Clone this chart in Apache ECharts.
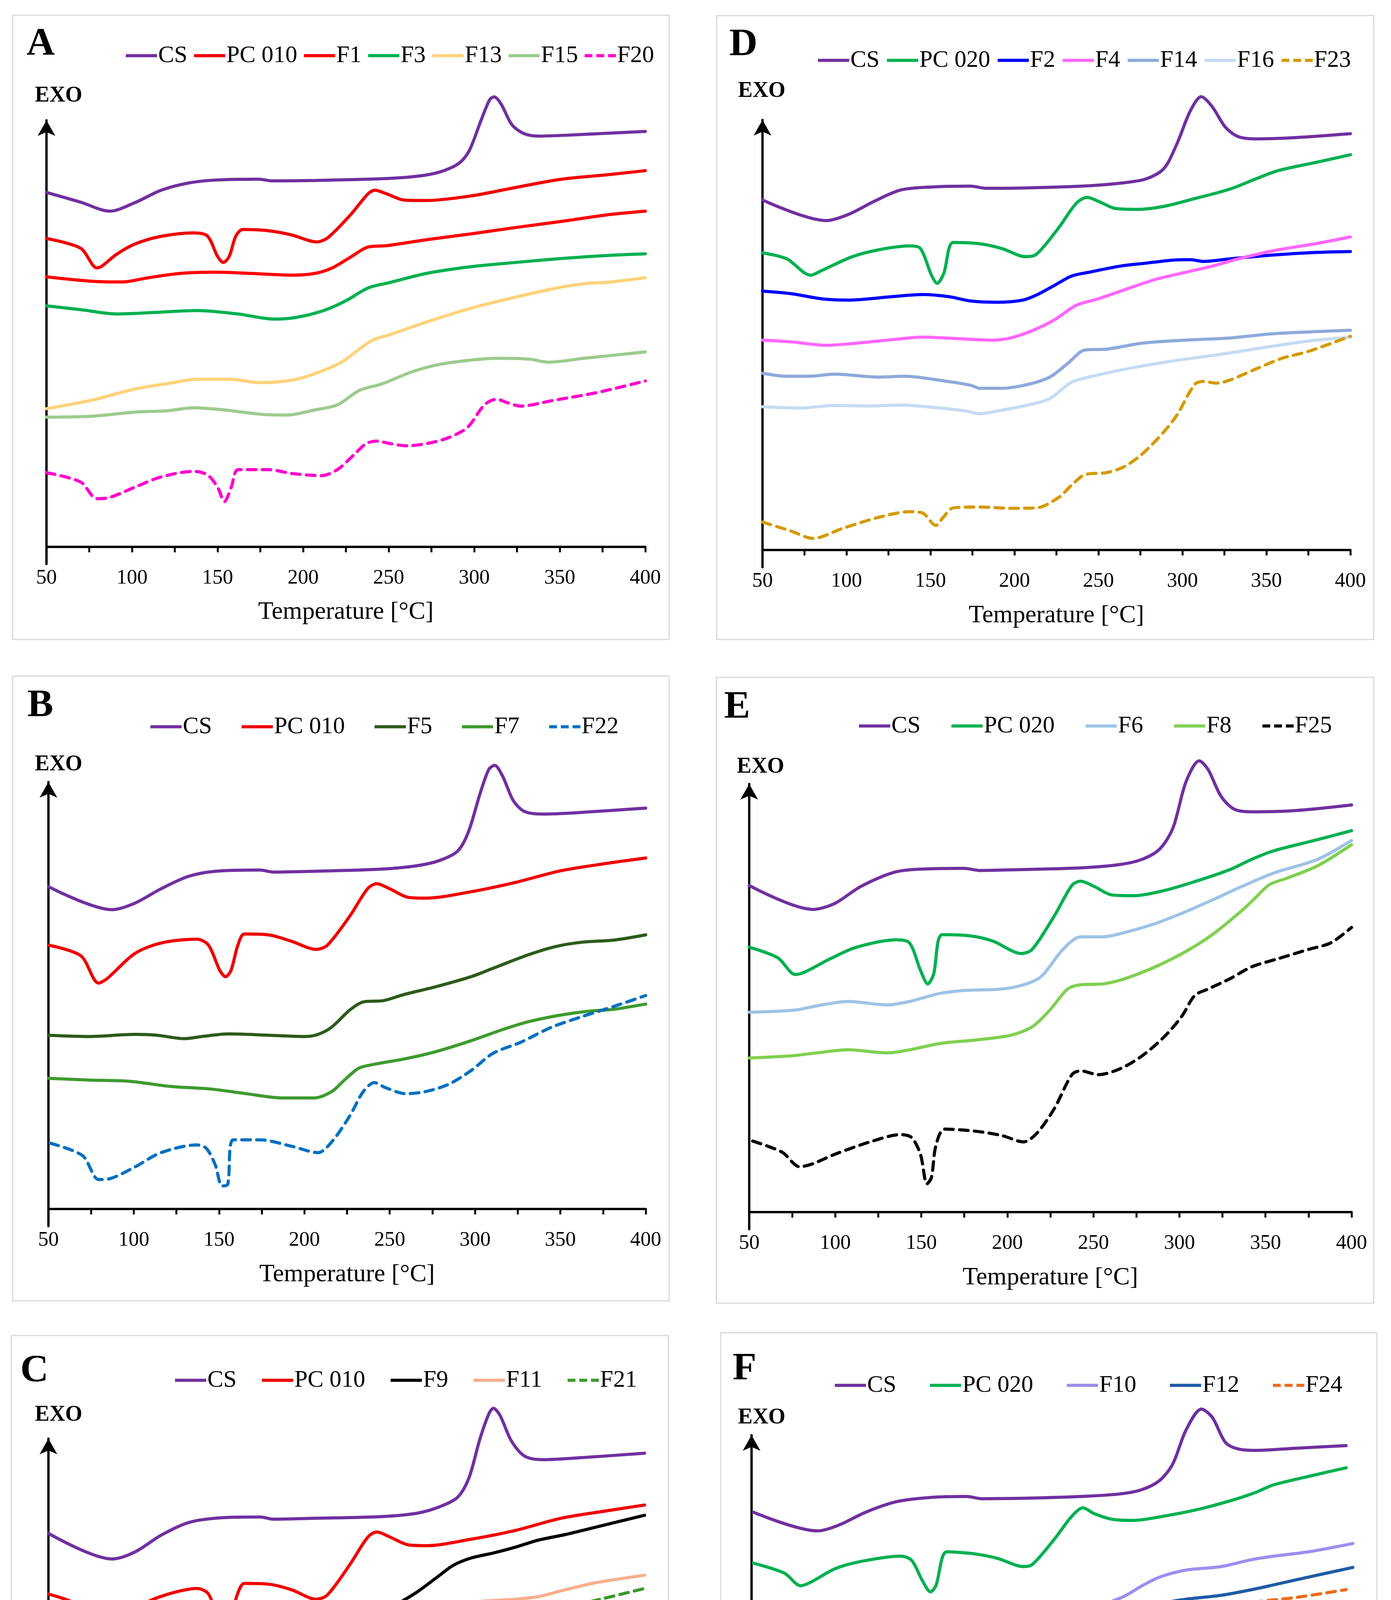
<!DOCTYPE html>
<html><head><meta charset="utf-8">
<script src="https://cdn.jsdelivr.net/npm/echarts@6.0.0/dist/echarts.min.js"></script>
<style>html,body{margin:0;padding:0;background:#fff}#c{width:3561px;height:5046px}</style>
</head><body><div id="c"></div>
<script>
// ---- Data: [temperature °C, relative heat-flow signal (0 = x axis, 100 = arrow tip)] ----
// Panel A
const csA = [[50,83.1],[70,80.8],[87,78.7],[101.7,80.7],[117,83.6],[133,85.3],[149,86.0],[174,86.2],[182,85.8],[207,85.9],[246,86.3],[267,86.9],[280,87.9],[291,89.9],[297,92.8],[304,100],[309,104.8],[311.6,105.5],[315.6,103.9],[322,99],[329,96.9],[338,96.3],[364,96.7],[400,97.4]];
const pc010A = [[50,72.3],[70,70.0],[79.4,65.4],[82,65.7],[91,68.6],[101.7,71.0],[117,72.8],[136,73.6],[144,72.9],[150,68.1],[153.4,66.7],[156.8,68.1],[160.7,72.9],[164.7,74.4],[180,74.1],[193.5,73.1],[208,71.5],[214.5,72.5],[227.6,77.8],[238,82.8],[242,83.6],[248.6,82.8],[259,81.3],[272,81.2],[298.5,82.3],[324.7,84.3],[351,86.2],[377,87.2],[400,88.2]];
const f1 = [[50,63.3],[75.5,62.3],[94,62.1],[109.6,63.1],[128,64.1],[149,64.4],[170,64.1],[193.5,63.7],[206.7,64.1],[217,65.4],[227.6,67.9],[238,70.3],[248.6,70.6],[272,72.0],[298.5,73.4],[324.7,74.9],[351,76.3],[377,77.8],[400,78.7]];
const f3 = [[50,56.5],[70,55.6],[91,54.6],[115,55.0],[138,55.4],[162,54.6],[183,53.4],[196,53.8],[212,55.4],[225,57.7],[238,60.7],[251,62.0],[272,64.1],[298.5,65.7],[324.7,66.7],[351,67.6],[377,68.3],[400,68.7]];
const f13 = [[50,32.4],[75.5,34.3],[101.7,37.0],[122.7,38.4],[138,39.3],[157,39.3],[175,38.5],[193.5,39.1],[206.7,40.6],[222,43.2],[233,46.4],[240.8,48.5],[251,49.8],[272,52.7],[298.5,56.0],[324.7,58.6],[351,60.9],[366.7,61.8],[377,62.0],[400,63.1]];
const f15 = [[50,30.4],[75.5,30.6],[101.7,31.6],[120,31.9],[136,32.6],[154,32.1],[175,31.1],[191,30.9],[206.7,32.1],[220,33.3],[233,36.7],[246,38.2],[264,41.1],[280,42.8],[298.5,43.8],[314,44.2],[332.5,44.0],[343,43.3],[364,44.2],[400,45.7]];
const f20 = [[50,17.4],[70,15.2],[79.4,11.3],[87,11.6],[101.7,14.0],[117,16.4],[136,17.7],[144,16.9],[150,14.0],[154,10.6],[158,14.0],[162,18.1],[180,18.1],[193.5,17.2],[210.6,16.7],[220,18.1],[230,21.7],[236.8,24.2],[243,24.8],[251,24.2],[260.4,23.7],[272,24.2],[285,25.6],[296,28.0],[306,33.3],[313,34.6],[319.5,33.8],[327,33.0],[345.7,34.3],[372,36.2],[400,38.9]];
// Panel B
const csB = [[50,75.5],[87.3,70.1],[100.5,71.6],[116,75.0],[132,77.9],[147.8,79.1],[174,79.4],[182,78.9],[205.6,79.1],[245,79.6],[266,80.4],[279,81.6],[289.7,83.8],[296,88.2],[302.8,97.1],[308,102.9],[311.5,103.9],[316,101.5],[322.5,95.6],[329,93.1],[339.6,92.5],[363,92.9],[400,93.9]];
const pc010B = [[50,61.8],[69,59.3],[79.4,52.9],[84.5,54.0],[100.5,59.8],[116,62.3],[137,63.2],[143.8,61.8],[150.4,55.9],[153.8,54.4],[157,55.9],[161,61.8],[164.8,64.4],[179,64.2],[192.4,62.7],[207,60.8],[213.5,61.8],[226.6,68.6],[237,75.0],[242.4,76.2],[250,75.0],[260.8,73.0],[271,72.8],[297.6,74.3],[323.8,76.5],[350,79.2],[376.4,80.9],[400,82.2]];
const f5 = [[50,40.7],[74,40.4],[100.5,40.9],[113.6,40.7],[129.4,39.9],[140,40.4],[155.6,41.0],[179,40.7],[200.3,40.4],[208,40.9],[216,42.6],[226.6,46.6],[234.5,48.5],[246.3,48.8],[258,50.2],[276.5,52.0],[297.6,54.4],[310.7,56.4],[331.7,59.6],[347.5,61.5],[363,62.5],[381.7,63.0],[400,64.2]];
const f7 = [[50,30.6],[74,30.2],[97.8,29.9],[121.5,28.7],[145,28.1],[166,27.0],[187,26.0],[205.6,26.0],[216,27.5],[224,30.4],[232,33.0],[242.4,34.0],[258,35.1],[276.5,36.8],[297.6,39.4],[316,42.0],[331.7,43.9],[350,45.4],[366,46.3],[381.7,46.8],[400,48.0]];
const f22 = [[51,15.4],[70,12.5],[79.4,6.9],[86,7.1],[100.5,9.8],[116,13.2],[137,15.0],[142.5,14.2],[147.8,10.3],[151.7,5.4],[155,5.7],[158.3,16.2],[174,16.2],[192.4,14.7],[208,13.2],[216,15.7],[226.6,21.8],[234.5,27.5],[241,29.6],[247.6,28.4],[259.5,27.0],[271,27.5],[284.5,29.2],[297.6,32.4],[310.7,36.5],[326.5,39.0],[345,42.6],[363,45.1],[381.7,47.5],[400,50.0]];
// Panel C
const csC = [[50,77.9],[87.4,71.9],[100.6,73.5],[116.4,77.5],[132.2,80.4],[150.6,81.5],[174.3,81.7],[182.2,81.2],[206,81.4],[245.4,81.8],[266.5,82.6],[279.7,84.1],[290.2,86.3],[296.8,90.7],[303.4,100],[308.7,105.9],[311.3,107.1],[315.2,105.4],[321.8,99.5],[329.7,95.9],[340.3,95.1],[364,95.6],[400,96.6]];
const pc010C = [[50,63.7],[69,60.8],[80,54.4],[84.7,55.4],[100.6,60.3],[116.4,63.2],[137.4,65.0],[144,63.7],[150,57.4],[153.2,56.1],[156.4,57.4],[161,63.7],[165,66.2],[179.6,66.0],[192.8,64.7],[207.2,62.5],[213.8,63.5],[227,70.6],[237.5,77.0],[242.8,78.2],[250.7,77.0],[261.2,75.2],[271.8,75.0],[298,76.5],[324.5,78.6],[350.8,81.4],[377,83.1],[400,84.5]];
const f9 = [[50,51.3],[71.6,50.8],[92.7,51.0],[111,52.2],[132.2,52.5],[150.6,51.8],[169,50.2],[182.2,49.5],[200.7,50.5],[216.5,52.2],[227,53.7],[240.2,57.8],[253.3,61.0],[266.5,64.2],[279.7,68.1],[287.6,70.4],[298,72.1],[311.3,73.3],[324.5,74.7],[337.6,76.3],[353.4,77.6],[372,79.4],[400,82.1]];
const f11 = [[50,45.3],[69,44.8],[84.8,44.6],[98,45.3],[116.4,46.8],[134.8,46.8],[153.2,45.9],[171.7,44.1],[190,42.6],[206,43.1],[219,44.3],[229.6,47.5],[240.2,51.5],[250.7,53.4],[263.9,55.7],[274.4,58.3],[285,60.5],[298,61.8],[311.3,62.2],[324.5,62.5],[337.6,63.1],[353.4,64.7],[372,66.4],[400,68.1]];
const f21 = [[50,10.3],[69,7.8],[84.8,5.1],[92.7,5.7],[105.8,8.0],[121.6,11.3],[134.8,13.2],[145.3,13.9],[153.2,13.5],[155.8,13.1],[163.8,14.2],[179.6,14.7],[206,15.2],[224.4,16.2],[240.2,18.6],[253.3,22.1],[263.9,27.5],[274.4,35.3],[285,42.6],[295.5,51.0],[303.4,58.3],[308.7,60.8],[311.3,61.3],[315.2,60.3],[321.8,58.1],[327,57.8],[337.6,58.8],[353.4,60.6],[372,62.3],[400,65.0]];
// Panel D
const csD = [[50,81.4],[87.9,76.6],[101,78.0],[116.6,81.1],[132.3,83.7],[150.6,84.4],[174,84.6],[183.2,84.1],[208,84.2],[244.6,84.7],[265.5,85.4],[278.5,86.3],[289,88.7],[296.8,94.5],[304.7,102.1],[311.2,105.4],[317.7,103.1],[325.6,98.3],[333.4,96.1],[343.8,95.6],[367.4,95.9],[400,96.8]];
const pc020D = [[50,69.1],[64.4,67.7],[78.7,63.9],[85.3,65.0],[103.5,68.2],[119.2,69.8],[137.5,70.7],[144,70.1],[150.6,63.9],[154,62.0],[157.9,64.3],[163.6,71.5],[179.3,71.2],[192.4,70.1],[206.7,68.2],[213.2,68.8],[226.3,74.9],[236.8,80.6],[243.3,82.0],[249.8,81.1],[260.3,79.4],[273.3,79.2],[289,79.9],[307.3,81.7],[328.2,83.9],[343.8,86.3],[356.9,88.2],[380.4,90.2],[400,91.9]];
const f2 = [[50,60.2],[67,59.6],[85.3,58.4],[101,58.1],[127,58.9],[145.3,59.4],[161,58.9],[174,57.9],[189.7,57.6],[204.8,58.1],[213.2,59.3],[223.7,61.5],[234,63.7],[244.6,64.6],[262.9,66.0],[278.5,66.7],[294.2,67.4],[304.7,67.5],[312.5,67.1],[328.2,67.7],[354.3,68.6],[380.4,69.2],[400,69.4]];
const f4 = [[50,48.8],[67,48.4],[87.9,47.6],[106.2,48.1],[127,48.9],[145.3,49.5],[163.6,49.2],[187.1,48.8],[197.6,49.3],[210.6,51.0],[223.7,53.5],[236.8,56.9],[249.8,58.4],[265.5,60.5],[283.8,62.9],[302.1,64.6],[317.7,66.0],[333.4,67.7],[354.3,69.6],[380.4,71.3],[400,72.8]];
const f14 = [[50,41.1],[64.4,40.4],[77.4,40.4],[93,40.9],[119.2,40.2],[134.9,40.4],[158.4,39.3],[174,38.3],[179.3,37.6],[192.4,37.6],[208,38.5],[221,40.2],[231.5,43.3],[242,46.5],[255,46.7],[276,48.1],[302,48.8],[328.2,49.3],[354.3,50.3],[400,51.1]];
const f16 = [[50,33.3],[72.2,33.0],[93,33.6],[114,33.5],[132.3,33.7],[153.2,33.1],[171.5,32.3],[179.3,31.7],[192.4,32.5],[208,33.7],[221,35.2],[234,39.0],[249.8,40.7],[270.7,42.4],[296.8,44.1],[322.9,45.5],[349,47.1],[375.2,48.6],[400,49.5]];
const f23 = [[50,6.5],[67,4.4],[80,2.7],[98.3,5.1],[119.2,7.6],[137.5,8.9],[145.3,8.6],[153.2,5.7],[157,7.3],[163.6,9.8],[179.3,10.0],[197.6,9.7],[213.2,9.8],[226.3,12.2],[234.1,15.1],[241.9,17.5],[255,18.0],[265.5,19.4],[276,22.3],[289,27.5],[296.8,31.4],[307.3,38.5],[312.5,39.2],[320.3,38.8],[328.2,39.5],[343.8,42.1],[359.5,44.6],[375.2,46.2],[400,49.7]];
// Panel E
const csE = [[50,76.3],[87,70.7],[99.7,72.1],[115,76.1],[135.5,79.5],[155.9,80.2],[175,80.3],[184,79.8],[206.9,80.0],[242.6,80.4],[265.6,81.2],[278.3,82.4],[288.5,84.8],[296.2,89.7],[303.8,100.5],[311.5,105.4],[316.6,103.4],[324.2,97.1],[331.9,94.1],[342,93.5],[367.6,93.8],[400,95.1]];
const pc020E = [[50,61.9],[66.6,59.4],[76.8,55.5],[81.9,56.0],[97.2,59.2],[112.5,61.9],[135.5,63.6],[143.1,62.9],[149.5,56.5],[153.8,53.3],[157.1,55.5],[162.2,64.8],[178.8,64.5],[191.6,63.3],[208.2,60.4],[214.5,61.4],[227.3,69.2],[237.5,76.3],[242.6,77.3],[250.3,76.1],[260.5,74.1],[273.2,73.9],[291,75.1],[308.9,77.2],[329.3,80.0],[342,82.4],[354.8,84.4],[380.3,87.0],[400,89.1]];
const f6 = [[50,46.7],[76.8,47.2],[89.5,48.2],[107.4,49.2],[130.4,48.4],[143.1,49.2],[161,51.1],[176.3,51.8],[196.7,52.1],[209.4,53.1],[219.6,55.0],[232.4,61.4],[242.6,64.3],[255.4,64.3],[268.1,65.3],[286,67.4],[303.8,70.2],[319.1,72.9],[337,76.2],[354.8,79.2],[380.3,82.4],[400,86.8]];
const f8 = [[50,36.0],[74.2,36.5],[89.5,37.2],[107.4,37.9],[130.4,37.2],[143.1,37.9],[161,39.4],[181.4,40.2],[201.8,41.3],[214.5,43.3],[224.7,47.2],[235,52.1],[242.6,53.1],[255.4,53.3],[268.1,54.5],[286,57.3],[303.8,60.9],[319.1,64.8],[337,70.7],[344.6,73.6],[352.3,76.5],[362.5,78.0],[380.3,80.9],[400,85.8]];
const f25 = [[52,16.6],[69.1,14.0],[79.3,10.6],[87,11.3],[99.7,13.5],[120.2,16.4],[138,18.1],[144.4,17.4],[149.5,13.5],[153.3,6.6],[155.9,8.1],[158.4,15.4],[163.5,19.4],[181.4,18.9],[196.7,17.9],[209.4,16.4],[217.1,18.4],[227.3,24.2],[237.5,32.1],[242.6,33.0],[252.8,32.1],[265.6,33.5],[278.3,36.5],[291,40.9],[301.3,45.7],[308.9,50.6],[316.6,52.1],[329.3,54.5],[342,57.3],[357.4,59.2],[375.3,61.4],[388,62.9],[400,66.5]];
// Panel F
const csF = [[51,82.3],[88.2,78.0],[101,79.4],[116.2,82.3],[134,84.7],[154.3,85.7],[174.7,85.9],[183.6,85.4],[207.8,85.5],[240.9,85.9],[263.8,86.5],[276.5,87.5],[286.7,89.6],[294.3,93.4],[302,101.2],[310.9,106.0],[317.2,104.1],[324.9,98.3],[332.5,96.8],[342.7,96.5],[365.6,97.0],[394.8,97.6]];
const pc020F = [[51,70.6],[69,68.3],[78.5,65.4],[84.3,66.2],[98.4,69.3],[113.6,71.0],[136.5,72.2],[142.9,71.2],[149.3,66.4],[153.8,64.0],[156.9,65.4],[163.3,73.2],[179.8,72.7],[192.5,71.7],[207.8,69.8],[212.9,70.3],[225.6,76.1],[235.8,81.4],[242.2,83.3],[248.5,82.0],[258.7,80.7],[271.4,80.4],[289.2,81.4],[309.6,83.0],[330,85.2],[342.7,86.9],[352.9,88.6],[378.3,91.0],[394.8,92.5]];
const f10 = [[51,53.7],[72.9,53.2],[90.7,53.1],[108.5,53.7],[128.9,54.2],[144.2,53.9],[162,52.6],[177.3,51.3],[195.1,50.8],[207.8,51.9],[223.1,54.1],[238.3,58.4],[251,60.6],[266.3,63.0],[276.5,65.4],[286.7,67.4],[302,69.0],[322.3,69.8],[340.1,71.4],[352.9,72.2],[373.2,73.2],[398.7,75.1]];
const f12 = [[51,44.5],[78,44.7],[98.4,46.1],[116.2,47.3],[136.5,47.6],[154.3,47.1],[169.6,46.1],[184.9,45.6],[200.2,45.9],[215.4,47.3],[225.6,48.6],[235.8,51.0],[248.5,54.3],[263.8,56.9],[276.5,59.2],[289.2,61.4],[302,62.3],[322.3,63.2],[340.1,64.5],[352.9,65.6],[373.2,67.4],[398.7,69.6]];
const f24 = [[51,5.4],[67.8,3.7],[83.1,2.5],[95.8,3.7],[111.1,6.4],[128.9,8.5],[144.2,9.3],[154.3,9.5],[169.6,10.4],[187.4,11.1],[207.8,11.9],[223.1,13.0],[235.8,15.3],[246,18.6],[256.1,23.5],[266.3,30.7],[276.5,38.4],[286.7,45.2],[294.3,51.0],[302,57.7],[308.3,61.1],[312.1,61.6],[317.2,60.9],[323.6,60.6],[340.1,61.6],[365.6,62.7],[394.8,64.5]];

const xTickLabels = [50, 100, 150, 200, 250, 300, 350, 400];
const panelLetters = ['A', 'B', 'C', 'D', 'E', 'F'];

// ---- Layout / style ----
const FONT = '"Liberation Serif", "DejaVu Serif", serif';
const C = {CS:'#7030A0', PC010:'#F00000', PC020:'#00B050'};
const ICON_SOLID = 'path://M0 0H20V2H0Z';
const ICON_DASH = 'path://M0 0H5V2H0Z M7.5 0H12.5V2H7.5Z M15 0H20V2H15Z';
const panels = [
  {letter:'A', plot:{left:119, right:1652, top:308, axisY:1400}, box:[32,39,1713,1637], lpos:[104,114], exo:[150,246], legend:{left:322, cy:144, gap:17},
   series:[['CS',csA,C.CS,0],['PC 010',pc010A,C.PC010,0],['F1',f1,'#FF0000',0],['F3',f3,'#00B050',0],['F13',f13,'#FFD27A',0],['F15',f15,'#9CCB8E',0],['F20',f20,'#FF00CC',1]]},
  {letter:'B', plot:{left:124, right:1653, top:2002, axisY:3095}, box:[32,1731,1713,3330], lpos:[103,1807], exo:[150,1958], legend:{left:385, cy:1862, gap:76},
   series:[['CS',csB,C.CS,0],['PC 010',pc010B,C.PC010,0],['F5',f5,'#2D5A1B',0],['F7',f7,'#3F9A2F',0],['F22',f22,'#0070C0',1]]},
  {letter:'C', plot:{left:124, right:1650, top:3683, axisY:4779}, box:[29,3419,1711,5016], lpos:[88,3510], exo:[150,3623], legend:{left:448, cy:3535, gap:65},
   series:[['CS',csC,C.CS,0],['PC 010',pc010C,C.PC010,0],['F9',f9,'#000000',0],['F11',f11,'#F7AE8C',0],['F21',f21,'#3A9A2A',1]]},
  {letter:'D', plot:{left:1952, right:3457, top:307, axisY:1408}, box:[1835,40,3517,1637], lpos:[1903,115], exo:[1950,234], legend:{left:2094, cy:156, gap:19},
   series:[['CS',csD,C.CS,0],['PC 020',pc020D,C.PC020,0],['F2',f2,'#0000FF',0],['F4',f4,'#FF66FF',0],['F14',f14,'#8EA9DB',0],['F16',f16,'#C5DCF2',0],['F23',f23,'#D49A00',1]]},
  {letter:'E', plot:{left:1918, right:3460, top:2007, axisY:3103}, box:[1834,1734,3517,3336], lpos:[1887,1811], exo:[1947,1964], legend:{left:2199, cy:1860, gap:79},
   series:[['CS',csE,C.CS,0],['PC 020',pc020E,C.PC020,0],['F6',f6,'#9DC3E6',0],['F8',f8,'#80D050',0],['F25',f25,'#000000',1]]},
  {letter:'F', plot:{left:1924, right:3469, top:3674, axisY:4788}, box:[1845,3412,3525,5011], lpos:[1906,3505], exo:[1950,3630], legend:{left:2137, cy:3548, gap:86},
   series:[['CS',csF,C.CS,0],['PC 020',pc020F,C.PC020,0],['F10',f10,'#9D8FEF',0],['F12',f12,'#1F5AA8',0],['F24',f24,'#EE6A1E',1]]}
];

const YMIN = -4, YMAX = 100;
const grid = [], xAxis = [], yAxis = [], series = [], legend = [], graphic = [];
panels.forEach((p, i) => {
  const ppu = (p.plot.axisY - p.plot.top) / YMAX;
  grid.push({left:p.plot.left, top:p.plot.top, width:p.plot.right - p.plot.left, height:ppu * (YMAX - YMIN), containLabel:false, outerBoundsMode:'none'});
  xAxis.push({type:'value', gridIndex:i, min:50, max:400, interval:25,
    axisLine:{show:true, onZero:true, lineStyle:{color:'#000', width:6}},
    axisTick:{show:true, inside:false, length:14, lineStyle:{color:'#000', width:5}},
    axisLabel:{show:true, margin:10, fontFamily:FONT, fontSize:53, color:'#000',
      formatter:v => xTickLabels.indexOf(v) >= 0 ? String(v) : ''},
    splitLine:{show:false},
    name:'Temperature [°C]', nameLocation:'middle', nameGap:92,
    nameTextStyle:{fontFamily:FONT, fontSize:64, color:'#000'}});
  yAxis.push({type:'value', gridIndex:i, min:YMIN, max:YMAX,
    axisLine:{show:true, onZero:false, symbol:['none','arrow'], symbolSize:[34,40], lineStyle:{color:'#000', width:6}},
    axisTick:{show:false}, axisLabel:{show:false}, splitLine:{show:false}});
  p.series.forEach(s => {
    series.push({name:s[0], type:'line', xAxisIndex:i, yAxisIndex:i, data:s[1],
      symbol:'none', showSymbol:false, smooth:0.3, clip:false, z:3,
      itemStyle:{color:s[2]},
      lineStyle:{color:s[2], width:8, type:s[3] ? [22,16] : 'solid', cap:'round'}});
  });
  legend.push({data:p.series.map(s => ({name:s[0], icon:s[3] ? ICON_DASH : ICON_SOLID, itemStyle:{color:s[2]}})),
    left:p.legend.left, top:p.legend.cy - 32,
    orient:'horizontal', itemWidth:80, itemHeight:8, itemGap:p.legend.gap, symbolKeepAspect:false,
    selectedMode:false, padding:0,
    textStyle:{fontFamily:FONT, fontSize:61, color:'#000', padding:[0,0,0,-2]}});
  graphic.push({type:'rect', silent:true, z:-1,
    shape:{x:p.box[0], y:p.box[1], width:p.box[2] - p.box[0], height:p.box[3] - p.box[1]},
    style:{fill:'none', stroke:'#D9D9D9', lineWidth:3}});
  graphic.push({type:'text', silent:true, x:p.lpos[0], y:p.lpos[1],
    style:{text:p.letter, font:'bold 100px ' + FONT, fill:'#000', textAlign:'center', textVerticalAlign:'middle', verticalAlign:'middle'}});
  graphic.push({type:'text', silent:true, x:p.exo[0], y:p.exo[1],
    style:{text:'EXO', font:'bold 56px ' + FONT, fill:'#000', textAlign:'center', textVerticalAlign:'middle', verticalAlign:'middle'}});
});

const chart = echarts.init(document.getElementById('c'), null, {renderer:'canvas', width:3561, height:5046});
chart.setOption({backgroundColor:'#fff', animation:false, grid, xAxis, yAxis, series, legend, graphic});
</script>
</body></html>
